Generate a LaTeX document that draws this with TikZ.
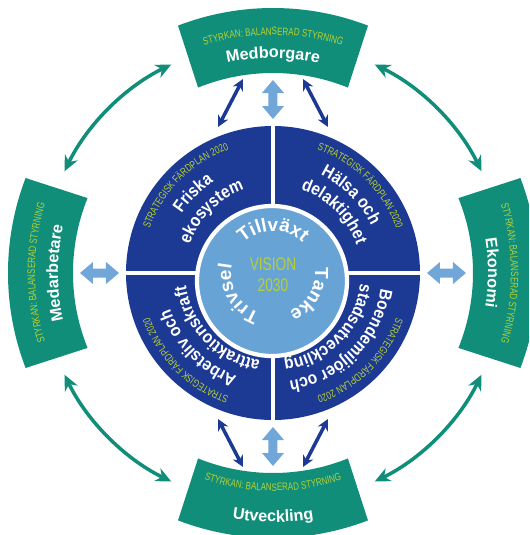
\documentclass[tikz,border=0pt]{standalone}
\usepackage{fontspec}
\setmainfont{Liberation Sans}
\newfontfamily\condfont[FakeStretch=0.75]{Liberation Sans}
\newfontfamily\quartfont[FakeStretch=0.88]{Liberation Sans}
\usetikzlibrary{arrows.meta,decorations.text}

\definecolor{bandteal}{RGB}{16,142,122}
\definecolor{navy}{RGB}{28,58,148}
\definecolor{visionblue}{RGB}{104,163,214}
\definecolor{arrowblue}{RGB}{112,166,216}
\definecolor{planlime}{RGB}{182,208,52}

\newcommand{\tagfont}{\condfont\fontsize{7.6}{9}\selectfont}
\newcommand{\bandfont}{\bfseries\fontsize{11.5}{13}\selectfont}
\newcommand{\quarterfont}{\quartfont\bfseries\fontsize{12.5}{14}\selectfont}
\newcommand{\corefont}{\bfseries\fontsize{13.5}{15}\selectfont}

\begin{document}
\begin{tikzpicture}[x=0.025cm, y=0.025cm,
  curved/.style 2 args={decorate, decoration={text along path, text align=center, text color=#1, text={#2}}},
  tealarrow/.style={bandteal, line width=2.5pt, >={Stealth[length=11pt,width=10pt]}, <->},
  navyarrow/.style={navy, line width=2.5pt, >={Stealth[length=8pt,width=8pt]}, <->}]
  \useasboundingbox (-273,-262) rectangle (256,273);
  \clip (-273,-262) rectangle (256,273);
  % four curved bands
  \foreach \a in {0,90,180,270}
    \fill[bandteal] ({\a+21}:265) arc[start angle=\a+21, end angle=\a-21, radius=265]
      -- ({\a-22}:200) arc[start angle=\a-22, end angle=\a+22, radius=200] -- cycle;
  % arrows between the bands
  \foreach \a in {26,116,206,296}
    \draw[tealarrow] (\a:232) arc[start angle=\a, end angle=\a+38, radius=232];
  % fat arrows between bands and ring
  \foreach \a in {0,90,180,270}
    \fill[arrowblue, rotate=\a] (154,0) -- (167,11) -- (167,4.5) -- (180,4.5) -- (180,11)
      -- (193,0) -- (180,-11) -- (180,-4.5) -- (167,-4.5) -- (167,-11) -- cycle;
  % dark ring in four quarters
  \fill[navy] (0,0) circle[radius=147];
  \draw[white, line width=3pt] (-148,0) -- (148,0) (0,-148) -- (0,148);
  \filldraw[fill=visionblue, draw=white, line width=3pt] (-1,-8) circle[radius=75];
  % thin arrows at top and bottom
  \coordinate (top-l) at (-30,194);   \coordinate (ring-nw) at (-55,146);
  \coordinate (top-r) at (30,194);    \coordinate (ring-ne) at (55,146);
  \coordinate (bot-l) at (-30,-194);  \coordinate (ring-sw) at (-55,-146);
  \coordinate (bot-r) at (30,-194);   \coordinate (ring-se) at (55,-146);
  \draw[navyarrow] (top-l) -- (ring-nw);
  \draw[navyarrow] (top-r) -- (ring-ne);
  \draw[navyarrow] (bot-l) -- (ring-sw);
  \draw[navyarrow] (bot-r) -- (ring-se);
  % band labels
  \path[curved={planlime}{|\tagfont|STYRKAN: BALANSERAD STYRNING}] (130:238) arc[start angle=130, end angle=50, radius=238];
  \path[curved={white}{|\bandfont|Medborgare}] (130:215) arc[start angle=130, end angle=50, radius=215];
  \path[curved={planlime}{|\tagfont|STYRKAN: BALANSERAD STYRNING}] (40:238) arc[start angle=40, end angle=-40, radius=238];
  \path[curved={white}{|\bandfont|Ekonomi}] (40:215) arc[start angle=40, end angle=-40, radius=215];
  \path[curved={planlime}{|\tagfont|STYRKAN: BALANSERAD STYRNING}] (220:238) arc[start angle=220, end angle=140, radius=238];
  \path[curved={white}{|\bandfont|Medarbetare}] (220:215) arc[start angle=220, end angle=140, radius=215];
  \path[curved={planlime}{|\tagfont|STYRKAN: BALANSERAD STYRNING}] (230:218) arc[start angle=230, end angle=310, radius=218];
  \path[curved={white}{|\bandfont|Utveckling}] (230:249) arc[start angle=230, end angle=310, radius=249];
  % quarter labels
  \foreach \a in {180,90,0,270}
    \path[curved={planlime}{|\tagfont|STRATEGISK FÄRDPLAN 2020}] (\a:131) arc[start angle=\a, end angle=\a-90, radius=131];
  \path[curved={white}{|\quarterfont|Friska}] (180:109) arc[start angle=180, end angle=90, radius=109];
  \path[curved={white}{|\quarterfont|ekosystem}] (180:88) arc[start angle=180, end angle=90, radius=88];
  \path[curved={white}{|\quarterfont|Hälsa och}] (90:109) arc[start angle=90, end angle=0, radius=109];
  \path[curved={white}{|\quarterfont|delaktighet}] (90:88) arc[start angle=90, end angle=0, radius=88];
  \path[curved={white}{|\quarterfont|Boendemiljöer och}] (0:109) arc[start angle=0, end angle=-90, radius=109];
  \path[curved={white}{|\quarterfont|stadsutveckling}] (0:88) arc[start angle=0, end angle=-90, radius=88];
  \path[curved={white}{|\quarterfont|Arbetsliv och}] (270:109) arc[start angle=270, end angle=180, radius=109];
  \path[curved={white}{|\quarterfont|attraktionskraft}] (270:88) arc[start angle=270, end angle=180, radius=88];
  % inner words
  \path[curved={white}{|\corefont|Tillväxt}] (150:42) arc[start angle=150, end angle=30, radius=42];
  \path[curved={white}{|\corefont|Tanke}] (30:42) arc[start angle=30, end angle=-90, radius=42];
  \path[curved={white}{|\corefont|Trivsel}] (270:42) arc[start angle=270, end angle=150, radius=42];
  \node[text=planlime, align=center, font=\condfont\fontsize{13}{15}\selectfont] (vision) at (0,-2) {VISION\\2030};
\end{tikzpicture}
\end{document}
